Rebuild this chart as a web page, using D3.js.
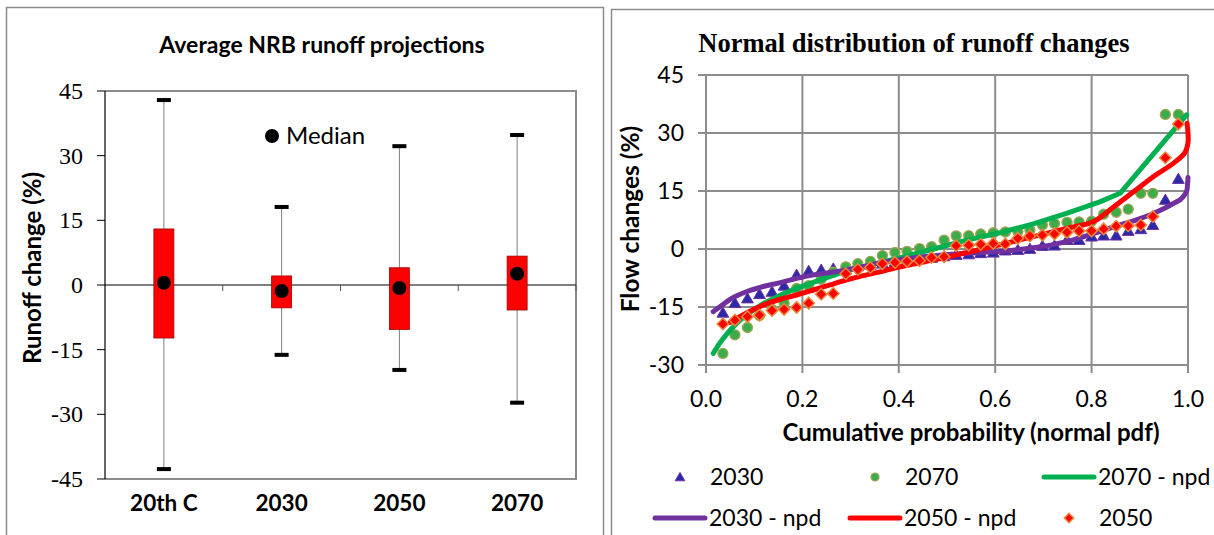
<!DOCTYPE html>
<html>
<head>
<meta charset="utf-8">
<script src="https://cdn.jsdelivr.net/npm/d3@7"></script>
<style>
  body { margin: 0; background: #fff; }
  svg { display: block; }
</style>
</head>
<body>
<svg id="chart" width="1214" height="535"></svg>
<script>
// ---- left panel: box plot of runoff change ----
var categories = ["20th C", "2030", "2050", "2070"];
var whiskerMin = [-42.7, -16.2, -19.7, -27.3];
var whiskerMax = [42.9, 18.1, 32.2, 34.8];
var boxLow = [-12.3, -5.3, -10.3, -5.8];
var boxHigh = [13.0, 2.1, 4.0, 6.7];
var medians = [0.5, -1.4, -0.7, 2.6];
var leftTicks = [-45, -30, -15, 0, 15, 30, 45];

// ---- right panel: cumulative probability vs flow change ----
var cumProb = [0.035, 0.060, 0.086, 0.111, 0.137, 0.162, 0.188, 0.213, 0.239, 0.264,
  0.290, 0.315, 0.341, 0.366, 0.392, 0.417, 0.443, 0.468, 0.494, 0.519,
  0.545, 0.570, 0.596, 0.621, 0.647, 0.672, 0.698, 0.723, 0.749, 0.774,
  0.800, 0.825, 0.851, 0.876, 0.902, 0.927, 0.953, 0.980];
var flow2030 = [-16.5, -14.0, -12.8, -11.7, -11.1, -9.5, -6.7, -5.7, -5.4, -5.1,
  -4.8, -4.5, -4.1, -3.8, -3.4, -3.0, -2.6, -2.3, -1.9, -1.55,
  -1.4, -1.1, -0.95, -0.4, -0.26, 0.0, 0.78, 0.86, 2.3, 2.3,
  3.2, 3.45, 3.45, 4.65, 5.1, 6.2, 12.7, 18.1];
var flow2070 = [-27.0, -22.2, -20.3, -17.2, -15.6, -14.0, -10.2, -9.5, -7.8, -6.0,
  -4.6, -3.8, -3.2, -1.7, -0.9, -0.6, 0.1, 0.6, 2.3, 3.4,
  3.45, 3.9, 4.2, 4.4, 4.5, 4.9, 6.2, 6.6, 6.9, 7.0,
  7.2, 9.0, 9.5, 10.3, 14.4, 14.4, 34.8, 34.8];
var flow2050 = [-19.4, -18.4, -17.5, -17.1, -15.9, -15.6, -15.1, -14.0, -11.7, -11.5,
  -6.4, -5.3, -4.8, -3.8, -3.5, -3.2, -3.0, -2.2, -2.0, 0.86,
  1.0, 1.2, 1.45, 1.3, 2.75, 3.35, 3.6, 3.9, 4.3, 4.65,
  4.7, 5.2, 5.9, 6.0, 6.2, 8.4, 23.6, 32.3];

var npd2030P = [0.015, 0.036, 0.050, 0.064, 0.085, 0.119, 0.154, 0.188, 0.223, 0.257,
  0.292, 0.326, 0.361, 0.396, 0.430, 0.485, 0.520, 0.610, 0.679, 0.748,
  0.804, 0.852, 0.887, 0.928, 0.970, 0.990, 0.998, 1.0];
var npd2030V = [-16.2, -14.3, -13.0, -12.1, -11.0, -9.7, -8.7, -7.6, -6.7, -6.1,
  -5.4, -4.6, -3.6, -2.9, -2.3, -1.6, -1.3, -0.6, 0.3, 1.9,
  4.0, 6.0, 7.3, 9.2, 11.8, 13.5, 15.3, 18.5];
var npd2070P = [0.015, 0.026, 0.036, 0.050, 0.064, 0.080, 0.098, 0.118, 0.140, 0.164,
  0.188, 0.237, 0.292, 0.347, 0.402, 0.472, 0.541, 0.610, 0.679, 0.748,
  0.817, 0.859, 0.997];
var npd2070V = [-27.0, -24.8, -23.1, -21.0, -19.2, -17.4, -15.8, -14.2, -12.8, -11.4,
  -10.2, -8.0, -5.6, -3.9, -2.3, 0.0, 2.3, 4.2, 6.5, 9.2,
  12.2, 14.4, 34.7];
var npd2050P = [0.050, 0.085, 0.119, 0.154, 0.188, 0.223, 0.257, 0.292, 0.326, 0.361,
  0.396, 0.430, 0.485, 0.541, 0.610, 0.679, 0.748, 0.804, 0.846, 0.887,
  0.928, 0.970, 0.994, 1.0, 1.0, 0.998];
var npd2050V = [-19.0, -16.5, -14.5, -13.0, -11.9, -10.6, -9.3, -8.0, -6.9, -5.9,
  -4.8, -3.9, -2.5, -0.9, 1.1, 3.2, 5.3, 7.1, 10.9, 14.8,
  18.7, 22.2, 25.0, 27.5, 30.0, 32.5];
var rightYTicks = [-30, -15, 0, 15, 30, 45];
var rightXTicks = [0, 0.2, 0.4, 0.6, 0.8, 1.0];

var SANS = "Lato, 'Open Sans', sans-serif";
var SERIF = "'Liberation Serif', 'DejaVu Serif', serif";

var svg = d3.select("#chart");

// panel frames
svg.append("rect").attr("x", 6.5).attr("y", 7.5).attr("width", 597).attr("height", 540)
  .attr("fill", "none").attr("stroke", "#8c8c8c").attr("stroke-width", 1.5);
svg.append("rect").attr("x", 611.5).attr("y", 9.5).attr("width", 610).attr("height", 540)
  .attr("fill", "none").attr("stroke", "#8c8c8c").attr("stroke-width", 1.5);

/* ================= left panel ================= */
var left = svg.append("g").attr("class", "left-panel");
var lx = d3.scaleBand().domain(categories).range([105, 576]);
var ly = d3.scaleLinear().domain([-45, 45]).range([479, 91]);

left.append("text")
  .attr("x", 322).attr("y", 53)
  .attr("text-anchor", "middle")
  .attr("font-family", SANS).attr("font-weight", "bold").attr("font-size", 23)
  .text("Average NRB runoff projections");

// plot border (gray)
left.append("path")
  .attr("d", "M" + lx.range()[0] + "," + ly(45) + "H" + lx.range()[1] + "V" + ly(-45) + "H" + lx.range()[0])
  .attr("fill", "none").attr("stroke", "#8c8c8c").attr("stroke-width", 2);

// y axis
left.append("line")
  .attr("x1", 105).attr("x2", 105).attr("y1", ly(45)).attr("y2", ly(-45))
  .attr("stroke", "#000").attr("stroke-width", 1.2);
left.selectAll("line.ytick")
  .data(leftTicks)
  .enter().append("line")
  .attr("class", "ytick")
  .attr("x1", 97).attr("x2", 105)
  .attr("y1", function (d) { return ly(d); })
  .attr("y2", function (d) { return ly(d); })
  .attr("stroke", "#000").attr("stroke-width", 1);
left.selectAll("text.ytick")
  .data(leftTicks)
  .enter().append("text")
  .attr("class", "ytick")
  .attr("x", 83)
  .attr("y", function (d) { return ly(d) + 8; })
  .attr("text-anchor", "end")
  .attr("font-family", SERIF).attr("font-size", 24)
  .text(function (d) { return d; });

// zero line with band separator ticks
left.append("line")
  .attr("x1", 105).attr("x2", 576).attr("y1", ly(0)).attr("y2", ly(0))
  .attr("stroke", "#000").attr("stroke-width", 1);
left.selectAll("line.sep")
  .data(categories)
  .enter().append("line")
  .attr("class", "sep")
  .attr("x1", function (d) { return lx(d) + lx.bandwidth(); })
  .attr("x2", function (d) { return lx(d) + lx.bandwidth(); })
  .attr("y1", ly(0)).attr("y2", ly(0) + 6)
  .attr("stroke", "#555").attr("stroke-width", 1);

left.selectAll("text.cat")
  .data(categories)
  .enter().append("text")
  .attr("class", "cat")
  .attr("x", function (d) { return lx(d) + lx.bandwidth() / 2; })
  .attr("y", 511)
  .attr("text-anchor", "middle")
  .attr("font-family", SANS).attr("font-weight", "bold").attr("font-size", 22.5)
  .text(function (d) { return d; });

left.append("text")
  .attr("transform", "translate(41,268) rotate(-90)")
  .attr("text-anchor", "middle")
  .attr("font-family", SANS).attr("font-weight", "bold").attr("font-size", 24)
  .text("Runoff change (%)");

var boxW = 20, capW = 14;
var groups = left.selectAll("g.box")
  .data(categories)
  .enter().append("g")
  .attr("class", "box");

groups.append("line")
  .attr("x1", function (d) { return lx(d) + lx.bandwidth() / 2; })
  .attr("x2", function (d) { return lx(d) + lx.bandwidth() / 2; })
  .attr("y1", function (d, i) { return ly(whiskerMax[i]); })
  .attr("y2", function (d, i) { return ly(whiskerMin[i]); })
  .attr("stroke", "#7f7f7f").attr("stroke-width", 1);

groups.append("rect")
  .attr("x", function (d) { return lx(d) + lx.bandwidth() / 2 - capW / 2; })
  .attr("y", function (d, i) { return ly(whiskerMax[i]) - 2; })
  .attr("width", capW).attr("height", 4).attr("fill", "#000");
groups.append("rect")
  .attr("x", function (d) { return lx(d) + lx.bandwidth() / 2 - capW / 2; })
  .attr("y", function (d, i) { return ly(whiskerMin[i]) - 2; })
  .attr("width", capW).attr("height", 4).attr("fill", "#000");

groups.append("rect")
  .attr("x", function (d) { return lx(d) + lx.bandwidth() / 2 - boxW / 2; })
  .attr("y", function (d, i) { return ly(boxHigh[i]); })
  .attr("width", boxW)
  .attr("height", function (d, i) { return ly(boxLow[i]) - ly(boxHigh[i]); })
  .attr("fill", "#ff0000").attr("stroke", "#a00000").attr("stroke-width", 0.8);

groups.append("circle")
  .attr("cx", function (d) { return lx(d) + lx.bandwidth() / 2; })
  .attr("cy", function (d, i) { return ly(medians[i]); })
  .attr("r", 7).attr("fill", "#000");

// median legend
left.append("circle").attr("cx", 272).attr("cy", 136).attr("r", 7).attr("fill", "#000");
left.append("text")
  .attr("x", 286).attr("y", 144)
  .attr("font-family", SANS).attr("font-size", 24)
  .text("Median");

/* ================= right panel ================= */
var right = svg.append("g").attr("class", "right-panel");
var rx = d3.scaleLinear().domain([0, 1]).range([706, 1188]);
var ry = d3.scaleLinear().domain([-30, 45]).range([365, 75]);

right.append("text")
  .attr("x", 914).attr("y", 52)
  .attr("text-anchor", "middle")
  .attr("font-family", SERIF).attr("font-weight", "bold").attr("font-size", 26.5)
  .text("Normal distribution of runoff changes");

// grid
right.selectAll("line.hgrid")
  .data(rightYTicks)
  .enter().append("line")
  .attr("class", "hgrid")
  .attr("x1", rx(0) - 8).attr("x2", rx(1))
  .attr("y1", function (d) { return ry(d); })
  .attr("y2", function (d) { return ry(d); })
  .attr("stroke", "#8c8c8c").attr("stroke-width", 2);
right.selectAll("line.vgrid")
  .data(rightXTicks)
  .enter().append("line")
  .attr("class", "vgrid")
  .attr("x1", function (d) { return rx(d); })
  .attr("x2", function (d) { return rx(d); })
  .attr("y1", ry(45)).attr("y2", ry(-30) + 8)
  .attr("stroke", "#8c8c8c").attr("stroke-width", 2);

right.selectAll("text.ytick")
  .data(rightYTicks)
  .enter().append("text")
  .attr("class", "ytick")
  .attr("x", 684)
  .attr("y", function (d) { return ry(d) + 8; })
  .attr("text-anchor", "end")
  .attr("font-family", SANS).attr("font-size", 23)
  .text(function (d) { return d; });
right.selectAll("text.xtick")
  .data(rightXTicks)
  .enter().append("text")
  .attr("class", "xtick")
  .attr("x", function (d) { return rx(d); })
  .attr("y", 407)
  .attr("text-anchor", "middle")
  .attr("font-family", SANS).attr("font-size", 23)
  .text(function (d) { return d3.format(".1f")(d); });

right.append("text")
  .attr("x", 971).attr("y", 441)
  .attr("text-anchor", "middle")
  .attr("font-family", SANS).attr("font-weight", "bold").attr("font-size", 24)
  .text("Cumulative probability (normal pdf)");
right.append("text")
  .attr("transform", "translate(639,219) rotate(-90)")
  .attr("text-anchor", "middle")
  .attr("font-family", SANS).attr("font-weight", "bold").attr("font-size", 24.5)
  .text("Flow changes (%)");

var tri = d3.symbol().type(d3.symbolTriangle).size(60);
var sq = d3.symbol().type(d3.symbolSquare).size(66);

function pts(vals) {
  return vals.map(function (v, i) { return [cumProb[i], v]; });
}
function linePts(ps, vs) {
  return ps.map(function (p, i) { return [p, vs[i]]; });
}

var plotG = right.append("g");

plotG.selectAll("path.t2030")
  .data(pts(flow2030))
  .enter().append("path")
  .attr("class", "t2030")
  .attr("d", tri)
  .attr("transform", function (d) { return "translate(" + rx(d[0]) + "," + (ry(d[1]) + 1) + ")"; })
  .attr("fill", "#2a2aa8").attr("stroke", "#7030a0").attr("stroke-width", 1);

plotG.selectAll("circle.c2070")
  .data(pts(flow2070))
  .enter().append("circle")
  .attr("class", "c2070")
  .attr("cx", function (d) { return rx(d[0]); })
  .attr("cy", function (d) { return ry(d[1]); })
  .attr("r", 5)
  .attr("fill", "#3aad48").attr("stroke", "#a3a356").attr("stroke-width", 1.3);

var straight = d3.line()
  .x(function (d) { return rx(d[0]); })
  .y(function (d) { return ry(d[1]); });
var smooth = d3.line()
  .x(function (d) { return rx(d[0]); })
  .y(function (d) { return ry(d[1]); })
  .curve(d3.curveMonotoneX);
var smoothCR = d3.line()
  .x(function (d) { return rx(d[0]); })
  .y(function (d) { return ry(d[1]); })
  .curve(d3.curveCatmullRom.alpha(0.5));

plotG.append("path")
  .attr("d", straight(linePts(npd2070P, npd2070V)))
  .attr("fill", "none").attr("stroke", "#00b050").attr("stroke-width", 5)
  .attr("stroke-linecap", "round").attr("stroke-linejoin", "round");
plotG.append("path")
  .attr("d", smooth(linePts(npd2030P, npd2030V)))
  .attr("fill", "none").attr("stroke", "#7030a0").attr("stroke-width", 5)
  .attr("stroke-linecap", "round").attr("stroke-linejoin", "round");
plotG.append("path")
  .attr("d", smoothCR(linePts(npd2050P, npd2050V)))
  .attr("fill", "none").attr("stroke", "#ff0000").attr("stroke-width", 5)
  .attr("stroke-linecap", "round").attr("stroke-linejoin", "round");

plotG.selectAll("path.d2050")
  .data(pts(flow2050))
  .enter().append("path")
  .attr("class", "d2050")
  .attr("d", sq)
  .attr("transform", function (d) { return "translate(" + rx(d[0]) + "," + ry(d[1]) + ") rotate(45)"; })
  .attr("fill", "#ff0000").attr("stroke", "#e8883a").attr("stroke-width", 1.5);

// legend
var legendItems = [
  { label: "2030", kind: "tri", x: 653, y: 477 },
  { label: "2070", kind: "circle", x: 848, y: 477 },
  { label: "2070 - npd", kind: "line", color: "#00b050", x: 1042, y: 477 },
  { label: "2030 - npd", kind: "line", color: "#7030a0", x: 653, y: 518 },
  { label: "2050 - npd", kind: "line", color: "#ff0000", x: 848, y: 518 },
  { label: "2050", kind: "diamond", x: 1042, y: 518 }
];
var leg = right.selectAll("g.leg")
  .data(legendItems)
  .enter().append("g")
  .attr("class", "leg")
  .attr("transform", function (d) { return "translate(" + d.x + "," + d.y + ")"; });

leg.each(function (d) {
  var g = d3.select(this);
  if (d.kind === "line") {
    g.append("line").attr("x1", 2).attr("x2", 52).attr("y1", 0).attr("y2", 0)
      .attr("stroke", d.color).attr("stroke-width", 5).attr("stroke-linecap", "round");
  } else if (d.kind === "tri") {
    g.append("path").attr("d", d3.symbol().type(d3.symbolTriangle).size(40))
      .attr("transform", "translate(27,1)")
      .attr("fill", "#2a2aa8").attr("stroke", "#7030a0").attr("stroke-width", 1);
  } else if (d.kind === "circle") {
    g.append("circle").attr("cx", 27).attr("cy", 0).attr("r", 4)
      .attr("fill", "#3aad48").attr("stroke", "#a3a356").attr("stroke-width", 1.2);
  } else {
    g.append("path").attr("d", d3.symbol().type(d3.symbolSquare).size(44))
      .attr("transform", "translate(27,0) rotate(45)")
      .attr("fill", "#ff0000").attr("stroke", "#e8883a").attr("stroke-width", 1.5);
  }
  g.append("text")
    .attr("x", d.kind === "line" ? 56 : 57).attr("y", 8)
    .attr("font-family", SANS).attr("font-size", 23)
    .text(d.label);
});
</script>
</body>
</html>
